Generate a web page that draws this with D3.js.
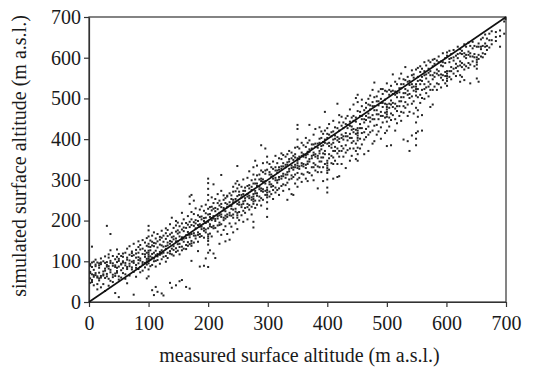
<!DOCTYPE html>
<html>
<head>
<meta charset="utf-8">
<script src="https://cdn.jsdelivr.net/npm/d3@7/dist/d3.min.js"></script>
</head>
<body style="margin:0">
<script>
// measured altitude of each sample column (m a.s.l.)
const measured = [
  2, 5, 8, 11, 14, 17, 20, 24, 27, 30, 33, 36, 40, 44, 47, 50, 54, 57, 61, 64,
  68, 72, 75, 79, 83, 86, 90, 94, 97, 100, 103, 106, 109, 112, 115, 119, 122, 125, 129, 132,
  136, 139, 142, 146, 149, 152, 156, 159, 163, 166, 169, 172, 176, 179, 183, 186, 189, 193, 196, 200,
  203, 206, 209, 212, 216, 219, 222, 226, 229, 232, 236, 239, 242, 246, 249, 252, 256, 259, 262, 266,
  269, 273, 276, 279, 282, 286, 289, 292, 296, 299, 303, 306, 309, 313, 316, 319, 323, 326, 330, 333,
  336, 340, 343, 346, 350, 353, 357, 360, 364, 367, 370, 374, 377, 380, 384, 387, 390, 393, 396, 400,
  403, 407, 410, 413, 417, 420, 424, 427, 431, 434, 438, 441, 444, 448, 451, 455, 458, 462, 465, 469,
  472, 476, 479, 483, 486, 490, 493, 497, 500, 504, 507, 510, 514, 517, 521, 524, 528, 531, 535, 538,
  542, 545, 549, 552, 556, 559, 563, 566, 570, 573, 577, 580, 584, 587, 591, 594, 598, 601, 605, 608,
  612, 616, 619, 623, 626, 630, 633, 637, 640, 644, 647, 651, 654, 658, 661, 665, 668, 672, 676, 683,
  690, 697, 699
];

// simulated altitudes belonging to each measured column
const simulated = [
  [47, 58, 71, 74, 89, 93], [49, 54, 68, 86, 97, 136], [41, 62, 66, 79, 99],
  [66, 71, 88, 92, 104], [31, 44, 60, 63, 97], [53, 58, 72, 84, 90, 95],
  [36, 60, 64, 93, 97, 107], [44, 65, 68, 75, 100], [27, 59, 77, 82, 96, 112],
  [63, 69, 87, 91, 98, 187], [40, 57, 82, 88, 109, 117], [52, 73, 79, 96, 101, 127, 167],
  [49, 61, 67, 89, 95, 113], [22, 64, 70, 86, 90, 105], [72, 76, 84, 98, 111, 129],
  [12, 55, 63, 87, 101, 106, 118], [60, 78, 92, 94, 113], [71, 83, 97, 100, 111, 119],
  [57, 68, 90, 96, 121], [46, 81, 86, 104, 109, 131], [65, 88, 94, 102, 116, 137],
  [80, 85, 99, 113, 120, 124], [18, 74, 96, 101, 115, 143], [62, 84, 91, 109, 119, 128],
  [81, 95, 103, 110, 121, 135, 149], [73, 86, 102, 107, 129, 140], [77, 93, 98, 118, 131, 152],
  [85, 96, 111, 117, 126, 146], [58, 92, 100, 106, 121, 138, 157],
  [63, 80, 95, 101, 106, 111, 116, 121, 126, 136, 143, 161, 176, 187],
  [88, 104, 112, 127, 135, 151], [29, 91, 109, 118, 139, 148, 163], [17, 100, 107, 121, 137, 145, 171],
  [37, 87, 101, 115, 126, 144, 156], [25, 103, 112, 118, 134, 149, 167], [94, 116, 123, 141, 153, 160],
  [21, 105, 119, 127, 139, 158, 175], [16, 111, 121, 136, 148, 163], [99, 113, 130, 137, 155, 169, 181],
  [108, 121, 139, 146, 162, 177], [47, 119, 125, 143, 150, 166, 191], [35, 117, 131, 148, 159, 170, 207],
  [114, 128, 137, 154, 161, 182], [41, 123, 132, 149, 156, 173, 188, 199], [126, 142, 149, 168, 176, 195],
  [51, 117, 135, 143, 161, 171, 186], [54, 127, 136, 153, 159, 178, 193, 219], [131, 148, 156, 174, 183, 203],
  [37, 130, 140, 157, 164, 182, 194], [138, 147, 165, 172, 190, 211], [33, 142, 159, 165, 184, 197, 241, 259],
  [101, 138, 144, 150, 167, 189, 203, 221, 263], [146, 163, 169, 187, 196, 216, 249], [156, 163, 181, 193, 201, 230],
  [125, 148, 165, 171, 189, 199, 213], [87, 160, 167, 185, 191, 209, 227], [162, 179, 185, 203, 210, 235],
  [89, 158, 175, 181, 199, 206, 224], [107, 171, 178, 194, 207, 218, 239],
  [86, 121, 141, 150, 156, 161, 166, 181, 197, 215, 229, 250, 263, 278, 292, 303],
  [127, 168, 186, 191, 209, 216, 233], [161, 184, 201, 206, 225, 234, 257], [119, 181, 187, 205, 211, 229, 243, 289],
  [108, 182, 199, 204, 223, 231, 253], [173, 188, 205, 211, 228, 243, 265], [143, 189, 195, 213, 219, 237, 249],
  [165, 191, 209, 215, 233, 241, 273, 312], [177, 201, 207, 225, 231, 251, 262], [149, 186, 205, 212, 223, 243, 255],
  [167, 209, 215, 233, 240, 259, 261], [153, 193, 213, 219, 237, 245, 267], [185, 212, 229, 236, 253, 262],
  [171, 207, 215, 227, 245, 251, 271, 283], [193, 222, 229, 247, 253, 272, 291], [179, 207, 213, 219, 241, 260, 279, 297, 334],
  [201, 221, 239, 245, 263, 271, 288], [213, 233, 239, 257, 263, 283], [197, 224, 241, 247, 265, 273, 301],
  [219, 231, 249, 255, 273, 281], [203, 233, 241, 259, 265, 285, 305], [227, 238, 255, 261, 279, 287, 321],
  [215, 234, 251, 257, 275, 283, 299], [183, 197, 241, 247, 253, 259, 265, 291, 313, 331], [231, 249, 267, 273, 291, 301, 347],
  [239, 261, 267, 285, 291, 311, 335], [249, 259, 277, 283, 301, 313], [237, 255, 273, 279, 297, 303, 323, 385],
  [251, 271, 277, 295, 301, 319, 341], [263, 273, 291, 297, 315, 323, 377], [209, 229, 245, 257, 263, 269, 275, 281, 325, 343, 357],
  [259, 271, 289, 295, 313, 319, 339], [265, 283, 289, 307, 313, 331], [253, 275, 285, 303, 309, 327, 345],
  [269, 281, 299, 305, 323, 331, 359], [275, 293, 299, 317, 323, 341], [263, 279, 301, 307, 325, 331, 353],
  [285, 303, 309, 327, 333, 351, 365], [273, 289, 309, 315, 333, 341, 361], [287, 305, 313, 331, 337, 357],
  [251, 293, 313, 319, 337, 343, 363], [277, 301, 321, 327, 345, 351, 371], [265, 303, 311, 329, 335, 353, 367],
  [263, 307, 325, 331, 349, 359], [291, 313, 331, 337, 355, 363, 379],
  [283, 301, 317, 329, 335, 341, 347, 353, 381, 399, 425, 435],
  [305, 327, 333, 351, 357, 377], [295, 315, 335, 341, 359, 367, 391], [313, 333, 339, 357, 363, 385],
  [303, 329, 337, 355, 361, 381, 403], [297, 319, 339, 345, 363, 369, 391], [317, 345, 351, 369, 375, 397, 435],
  [311, 331, 353, 359, 377, 387], [299, 331, 341, 361, 367, 387, 411], [323, 337, 357, 363, 381, 389, 425],
  [279, 319, 333, 353, 359, 379, 389], [331, 345, 365, 371, 391, 401, 429], [319, 345, 355, 375, 383, 403, 419],
  [297, 331, 355, 365, 385, 393, 413], [339, 363, 371, 391, 399, 421, 467],
  [269, 281, 301, 317, 323, 329, 335, 341, 347, 389, 403, 413, 427],
  [325, 353, 363, 383, 391, 411, 437], [341, 359, 379, 387, 407, 417], [303, 339, 355, 371, 391, 399, 419, 445],
  [347, 371, 381, 401, 409, 429], [307, 339, 365, 377, 397, 405, 427, 487], [309, 357, 371, 393, 401, 421, 441, 459],
  [339, 371, 383, 403, 411, 433, 455], [357, 377, 399, 407, 427, 441], [329, 367, 385, 407, 415, 437, 451],
  [373, 397, 407, 427, 435, 457], [347, 377, 403, 413, 433, 443, 473], [359, 391, 403, 423, 431, 453],
  [377, 395, 417, 425, 445, 457, 485], [351, 371, 389, 413, 423, 443, 453, 501],
  [347, 363, 379, 397, 403, 409, 415, 421, 427, 469, 491, 509],
  [377, 401, 427, 437, 457, 467], [387, 415, 427, 449, 457, 481, 497], [363, 399, 417, 441, 449, 471],
  [405, 425, 447, 457, 477, 489], [371, 411, 431, 453, 463, 485, 499],
  [417, 443, 453, 473, 483, 507], [389, 421, 449, 459, 481, 491, 521], [395, 433, 449, 471, 481, 503, 539],
  [411, 435, 461, 471, 493, 505], [419, 449, 461, 483, 493, 517], [401, 429, 457, 467, 489, 499, 523],
  [441, 457, 479, 489, 511, 523], [415, 453, 465, 487, 497, 519],
  [383, 421, 443, 455, 461, 467, 473, 479, 485, 517, 537],
  [431, 453, 477, 487, 509, 521], [385, 447, 463, 485, 495, 517, 531], [459, 479, 489, 511, 519, 559],
  [421, 449, 475, 487, 509, 517, 541], [439, 469, 481, 503, 513, 535], [457, 481, 493, 515, 525, 549],
  [445, 467, 493, 503, 525, 535, 561], [399, 465, 481, 503, 513, 535, 547], [477, 491, 513, 523, 545, 577],
  [395, 457, 485, 509, 519, 541, 553], [371, 467, 501, 511, 533, 543],
  [409, 487, 505, 527, 535, 557, 569], [463, 493, 519, 529, 551, 559],
  [385, 401, 415, 441, 477, 507, 517, 523, 529, 535, 571], [419, 455, 471, 503, 523, 543, 553, 575],
  [489, 509, 535, 545, 565, 579], [421, 459, 501, 521, 543, 553, 573], [499, 523, 535, 557, 567, 589],
  [513, 527, 549, 559, 581], [505, 529, 541, 563, 573, 593], [479, 521, 535, 557, 567, 589],
  [485, 521, 547, 557, 579, 595], [529, 553, 563, 585, 597], [521, 537, 561, 571, 593],
  [535, 557, 567, 589, 603], [527, 551, 559, 581, 591], [545, 557, 579, 589, 611],
  [537, 555, 565, 587, 599], [531, 543, 549, 555, 561, 567, 605, 613], [553, 567, 589, 597, 617],
  [547, 567, 577, 599, 609],
  [561, 573, 593, 601, 619], [555, 575, 585, 605], [567, 579, 599, 609, 627],
  [541, 557, 581, 591, 611, 621], [553, 577, 587, 609, 617], [545, 571, 583, 603, 611, 633],
  [579, 599, 607, 627], [575, 587, 607, 615, 637], [537, 583, 603, 611, 629],
  [591, 603, 623, 639], [579, 601, 609, 629], [549, 573, 583, 589, 595, 601, 627],
  [541, 597, 607, 627, 635], [603, 621, 627, 645], [601, 611, 629, 649],
  [609, 627, 635, 657], [619, 629, 647], [625, 643, 659], [633, 643, 665], [641, 651, 663],
  [627, 653, 667], [659, 689], [695]
];

const tickValues = [0, 100, 200, 300, 400, 500, 600, 700];
const identityLine = [0, 700];

const xTitle = "measured surface altitude (m a.s.l.)";
const yTitle = "simulated surface altitude (m a.s.l.)";

const width = 538, height = 374;
const margin = { top: 17, right: 32, bottom: 72, left: 89 };
const innerW = width - margin.left - margin.right;
const innerH = height - margin.top - margin.bottom;
const fontName = 'Liberation Serif';

const points = [];
measured.forEach((m, i) => {
  simulated[i].forEach(s => points.push({ m, s }));
});

const svg = d3.select('body')
  .append('svg')
  .attr('width', width)
  .attr('height', height)
  .attr('font-family', fontName);

svg.append('text')
  .attr('x', margin.left + innerW / 2 + 2)
  .attr('y', 362)
  .attr('text-anchor', 'middle')
  .attr('font-family', fontName)
  .attr('font-size', 20)
  .attr('fill', '#1a1a1a')
  .text(xTitle);

svg.append('text')
  .attr('transform', 'translate(26,156) rotate(-90)')
  .attr('text-anchor', 'middle')
  .attr('font-family', fontName)
  .attr('font-size', 20)
  .attr('fill', '#1a1a1a')
  .text(yTitle);

const g = svg.append('g')
  .attr('transform', `translate(${margin.left},${margin.top})`);

const x = d3.scaleLinear().domain([0, 700]).range([0, innerW]);
const y = d3.scaleLinear().domain([0, 700]).range([innerH, 0]);

const xAxis = g.append('g')
  .attr('transform', `translate(0,${innerH})`)
  .call(d3.axisBottom(x).tickValues(tickValues).tickSize(5).tickSizeOuter(0).tickPadding(9));

const yAxis = g.append('g')
  .call(d3.axisLeft(y).tickValues(tickValues).tickSize(5).tickSizeOuter(0).tickPadding(3));

[xAxis, yAxis].forEach(ax => {
  ax.attr('font-family', fontName).attr('font-size', 20);
  ax.select('.domain').attr('stroke', '#333').attr('stroke-width', 1.2);
  ax.selectAll('.tick line').attr('stroke', '#333').attr('stroke-width', 1.2);
  ax.selectAll('.tick text').attr('font-family', fontName).attr('font-size', 20).attr('fill', '#1a1a1a');
});

// frame
g.append('rect')
  .attr('x', 0).attr('y', 0)
  .attr('width', innerW).attr('height', innerH)
  .attr('fill', 'none')
  .attr('stroke', '#333')
  .attr('stroke-width', 1.2);

// points
g.selectAll('.pt')
  .data(points)
  .enter().append('rect')
  .attr('class', 'pt')
  .attr('x', d => x(d.m) - 1)
  .attr('y', d => y(d.s) - 1)
  .attr('width', 2)
  .attr('height', 2)
  .attr('fill', '#262626');

// 1:1 line
g.append('line')
  .attr('x1', x(identityLine[0])).attr('y1', y(identityLine[0]))
  .attr('x2', x(identityLine[1])).attr('y2', y(identityLine[1]))
  .attr('stroke', '#111')
  .attr('stroke-width', 1.7);
</script>
</body>
</html>
